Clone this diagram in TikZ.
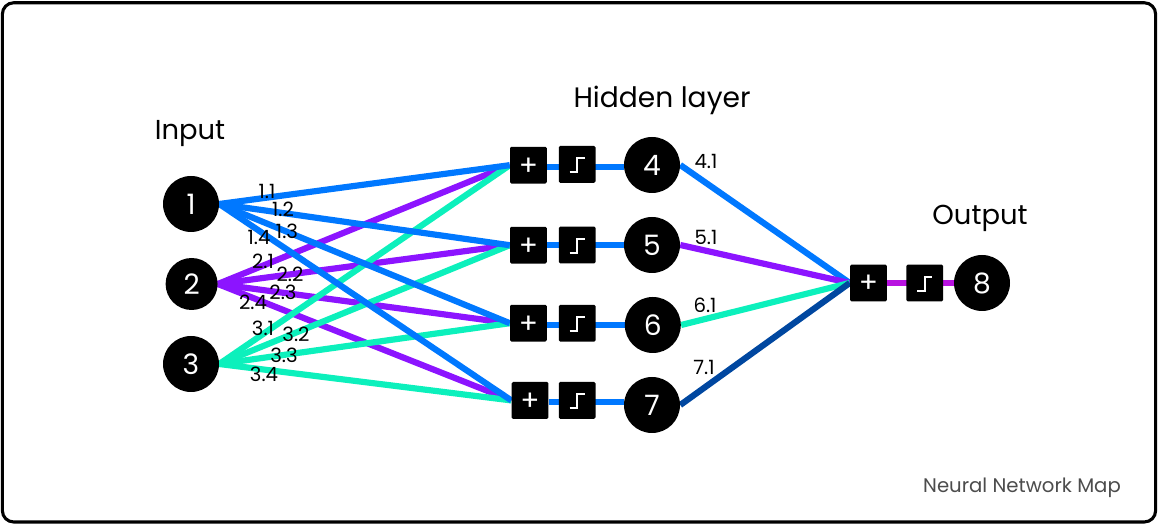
\documentclass[tikz,border=0pt]{standalone}
\usepackage{fontspec}
\usetikzlibrary{backgrounds}
\setmainfont{Poppins}
\definecolor{netblue}{HTML}{0078FF}
\definecolor{netpurple}{HTML}{8C14FF}
\definecolor{netteal}{HTML}{0CF0BC}
\definecolor{netnavy}{HTML}{0047A0}
\definecolor{netmagenta}{HTML}{B812E0}
\tikzset{
    neuron/.style={circle,fill=black,text=white,inner sep=0pt,minimum size=1.4cm,font=\fontsize{20}{20}\selectfont},
    opbox/.style={rectangle,rounded corners=1pt,fill=black,text=white,inner sep=0pt,minimum size=0.92cm,text height=14pt,text depth=0pt,font=\fontsize{20}{20}\selectfont},
    weight/.style={inner sep=0pt,font=\fontsize{14}{14}\selectfont},
    heading/.style={inner sep=0pt,font=\fontsize{19.5}{20}\selectfont},
    synapse/.style={line width=4.4pt},
    stepglyph/.style={draw=white,line width=1.4pt}
}
\begin{document}
\begin{tikzpicture}
    \useasboundingbox (0,0) rectangle (28.975,13.2);
    %% frame
    \draw[line width=2.2pt,rounded corners=8pt] (0.06,0.15) rectangle (28.89,13.13);
    %% neurons
    \node[neuron] (n1) at (4.775,8.1) {1};
    \node[neuron,minimum size=1.3cm] (n2) at (4.79,6.1) {2};
    \node[neuron] (n3) at (4.775,4.1) {3};
    \node[neuron] (n4) at (16.3,9.075) {4};
    \node[neuron] (n5) at (16.3,7.075) {5};
    \node[neuron] (n6) at (16.32,5.075) {6};
    \node[neuron] (n7) at (16.3,3.075) {7};
    \node[neuron] (n8) at (24.55,6.125) {8};
    %% sum and step boxes
    \node[opbox] (add4) at (13.21,9.07) {+};
    \node[opbox] (step4) at (14.43,9.09) {};
    \node[opbox] (add5) at (13.21,7.07) {+};
    \node[opbox] (step5) at (14.43,7.075) {};
    \node[opbox] (add6) at (13.21,5.12) {+};
    \node[opbox] (step6) at (14.43,5.12) {};
    \node[opbox] (add7) at (13.25,3.19) {+};
    \node[opbox] (step7) at (14.43,3.19) {};
    \node[opbox] (add8) at (21.71,6.125) {+};
    \node[opbox] (step8) at (23.12,6.125) {};
    %% levels of the lines through the boxes
    \coordinate (bus4) at (15,9.03);
    \coordinate (bus5) at (15,7.075);
    \coordinate (bus6) at (15,5.08);
    \coordinate (bus7) at (15,3.14);
    %% edges
    \begin{pgfonlayer}{background}
    \foreach \s in {4,5,6,7}{
        \draw[synapse,netpurple] (n2.east) -- (add\s.west);
    }
    \foreach \s in {4,5,6,7}{
        \draw[synapse,netteal] (n3.east) -- (add\s.west);
    }
    \foreach \s in {4,5,6,7}{
        \draw[synapse,netblue] (n1.east) -- (add\s.west);
        \draw[synapse,netblue] (add\s.east |- bus\s) -- (n\s.west |- bus\s);
    }
    \draw[synapse,netblue] (n4.east) -- (add8.west);
    \draw[synapse,netpurple] (n5.east) -- (add8.west);
    \draw[synapse,netteal] (n6.east) -- (add8.west);
    \draw[synapse,netnavy] (n7.east) -- (add8.west);
    \draw[synapse,netmagenta] (add8.east) -- (n8.west);
    \end{pgfonlayer}
    %% step symbols
    \foreach \s in {4,5,6,7,8}{
        \draw[stepglyph] ([shift={(-0.19,-0.2)}]step\s.center) -- ([shift={(0,-0.2)}]step\s.center)
            -- ([shift={(0,0.15)}]step\s.center) -- ([shift={(0.19,0.15)}]step\s.center);
    }
    %% weights
    \node[weight] (w11) at (6.675,8.425) {1.1};
    \node[weight] (w12) at (7.075,7.975) {1.2};
    \node[weight] (w13) at (7.175,7.425) {1.3};
    \node[weight] (w14) at (6.475,7.275) {1.4};
    \node[weight] (w21) at (6.575,6.675) {2.1};
    \node[weight] (w22) at (7.25,6.35) {2.2};
    \node[weight] (w23) at (7.075,5.9) {2.3};
    \node[weight] (w24) at (6.325,5.65) {2.4};
    \node[weight] (w31) at (6.575,5.0) {3.1};
    \node[weight] (w32) at (7.4,4.85) {3.2};
    \node[weight] (w33) at (7.1,4.325) {3.3};
    \node[weight] (w34) at (6.6,3.85) {3.4};
    \node[weight] (w41) at (17.65,9.175) {4.1};
    \node[weight] (w51) at (17.65,7.275) {5.1};
    \node[weight] (w61) at (17.625,5.575) {6.1};
    \node[weight] (w71) at (17.6,4.025) {7.1};
    %% headings
    \node[heading] (input) at (4.75,9.85) {Input};
    \node[heading,font=\fontsize{20}{20}\selectfont] (hidden) at (16.55,10.7) {Hidden layer};
    \node[heading] (output) at (24.5,7.75) {Output};
    \node[inner sep=0pt,text=black!70,font=\fontsize{14}{14}\selectfont] (title) at (25.55,1.0) {Neural Network Map};
\end{tikzpicture}
\end{document}
